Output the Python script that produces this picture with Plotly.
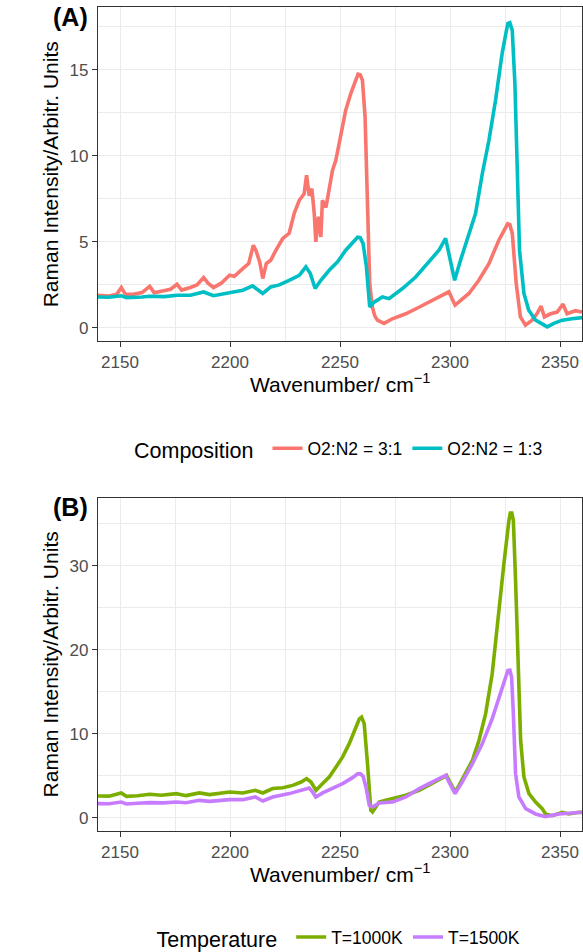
import plotly.graph_objects as go

# ---------------- Panel A: composition ----------------
wn_31 = [2140, 2145, 2148.5, 2150.6, 2152.5, 2156, 2160, 2163.5, 2165.5, 2170, 2173, 2175.9, 2178,
         2182, 2185, 2188, 2190, 2192.5, 2196, 2199.8, 2202, 2205.8, 2208.5, 2210.6, 2211.8, 2213.5,
         2214.9, 2216.5, 2218.5, 2220.9, 2222.4, 2224, 2226.9, 2229.2, 2231.5, 2233.7, 2234.8, 2236,
         2237.2, 2238.3, 2239, 2240.2, 2241.3, 2242, 2243.6, 2245.1, 2246.6, 2248.1, 2249.6, 2251.1,
         2252.6, 2254.9, 2257.2, 2258.2, 2259.2, 2260.2, 2261.4, 2262.5, 2263.5, 2264.7, 2265.8, 2267,
         2270, 2273.8, 2279.9, 2285.9, 2292, 2298, 2299.5, 2302.3, 2304.8, 2308.6, 2313.1, 2317.7,
         2322.2, 2325, 2326.2, 2327.2, 2328.3, 2330.1, 2332, 2334.3, 2337.3, 2339.5, 2341.4, 2342.9,
         2345.7, 2348.7, 2351.4, 2353.2, 2357, 2360]
int_31 = [1.9, 1.85, 1.95, 2.35, 1.95, 1.95, 2.05, 2.42, 2.05, 2.15, 2.25, 2.54, 2.2,
          2.35, 2.5, 2.93, 2.6, 2.35, 2.6, 3.06, 3.0, 3.45, 3.74, 4.81, 4.5, 3.84,
          2.87, 3.74, 3.93, 4.52, 4.9, 5.2, 5.5, 6.67, 7.42, 7.8, 8.88, 7.68,
          8.1, 6.65, 5.0, 6.46, 5.29, 7.42, 7.0, 8.1, 9.17, 9.75, 10.72, 11.69,
          12.66, 13.63, 14.5, 14.75, 14.72, 14.4, 12.27, 7.42, 2.58, 1.22, 0.7, 0.45,
          0.26, 0.53, 0.82, 1.2, 1.61, 2.0, 2.1, 1.32, 1.61, 2.0, 2.77, 3.74,
          5.1, 5.8, 6.05, 6.0, 5.5, 2.58, 0.64, 0.16, 0.45, 0.82, 1.26, 0.64,
          0.82, 0.92, 1.38, 0.82, 1.0, 0.92]

wn_13 = [2140, 2145, 2150.6, 2153, 2160, 2163.5, 2170, 2176, 2182, 2188, 2192.5, 2199.8, 2205.8,
         2210.3, 2212, 2214.9, 2218.5, 2222.4, 2226.9, 2231.5, 2234.5, 2236.5, 2238.7, 2241.3, 2245.1,
         2248.9, 2252.6, 2256.4, 2258, 2259.2, 2260.5, 2262, 2263.5, 2265.5, 2269.3, 2272.3, 2278.4,
         2284.4, 2289, 2295, 2298, 2299.8, 2302.1, 2304.8, 2307.8, 2311.6, 2314.7, 2317.7, 2320.7,
         2323.7, 2325.5, 2326.3, 2327.2, 2328.3, 2329.5, 2330.5, 2331.6, 2333.6, 2335.8, 2338.9,
         2341.9, 2344.2, 2347.2, 2351, 2355.5, 2360]
int_13 = [1.8, 1.78, 1.87, 1.76, 1.8, 1.84, 1.82, 1.9, 1.9, 2.09, 1.87, 2.05, 2.19,
          2.44, 2.3, 2.0, 2.38, 2.5, 2.77, 3.06, 3.55, 3.16, 2.29, 2.77, 3.35,
          3.84, 4.52, 5.1, 5.27, 5.25, 4.9, 3.55, 1.22, 1.5, 1.8, 1.7, 2.29,
          2.96, 3.65, 4.52, 5.2, 4.13, 2.77, 3.94, 5.1, 6.65, 8.98, 10.91, 13.24,
          15.95, 17.2, 17.7, 17.75, 17.3, 14.2, 9.36, 4.52, 2.0, 1.03, 0.45,
          0.26, 0.06, 0.26, 0.45, 0.53, 0.6]

# ---------------- Panel B: temperature ----------------
wn_1000 = [2140, 2145, 2150.6, 2152.9, 2158, 2163.5, 2168.7, 2175.6, 2180, 2186.1, 2190.7, 2199.8,
           2205.8, 2211.5, 2214.9, 2219.4, 2224, 2228.5, 2232.3, 2234.8, 2236.8, 2239.1, 2242.1,
           2245.1, 2248.2, 2251.2, 2254.2, 2257.2, 2258.8, 2259.8, 2261, 2262.5, 2264, 2264.8, 2267.8,
           2270.8, 2273.9, 2279.9, 2286, 2292, 2297.3, 2298.4, 2300.3, 2302.3, 2304.1, 2307.1,
           2310.2, 2313.2, 2316.2, 2319.2, 2322.3, 2324.5, 2326.8, 2327.4, 2328.1, 2328.8, 2329.8, 2331,
           2332.1, 2333.6, 2335.9, 2338.9, 2341.9, 2343.4, 2346.5, 2351, 2354, 2358.5, 2360]
int_1000 = [2.62, 2.6, 2.98, 2.58, 2.65, 2.82, 2.7, 2.9, 2.66, 2.98, 2.78, 3.1,
            2.98, 3.3, 2.98, 3.5, 3.6, 3.88, 4.28, 4.68, 4.28, 3.3, 4.1,
            4.88, 6.07, 7.27, 8.85, 10.64, 11.8, 12.0, 11.24, 6.47, 0.92, 0.71, 1.9,
            2.1, 2.3, 2.7, 3.3, 4.09, 4.89, 5.08, 4.09, 3.1, 3.89, 5.28,
            6.87, 9.25, 12.43, 17.2, 25.1, 30.28, 35.44, 36.3, 36.3, 35.44, 28.3, 18.38,
            9.25, 4.89, 2.9, 1.9, 1.11, 0.48, 0.28, 0.68, 0.48, 0.68, 0.65]

wn_1500 = [2140, 2145, 2150.6, 2152.9, 2158, 2163.5, 2170, 2175.6, 2180, 2186.1, 2190.7, 2199.8,
           2205.8, 2211.5, 2214.9, 2219.4, 2227, 2233, 2236, 2237.5, 2239, 2242.1, 2246.6, 2251.2,
           2255.7, 2258, 2259.3, 2260.5, 2261.8, 2263.3, 2264.8, 2267.8, 2273.9, 2279.9, 2286, 2292,
           2298, 2302.3, 2305.6, 2310.2, 2314.7, 2319.2, 2323, 2325.3, 2326.3, 2327.2, 2328, 2328.8,
           2329.8, 2331.3, 2334.4, 2338.9, 2343.4, 2349.5, 2358.5, 2360]
int_1500 = [1.71, 1.7, 1.9, 1.67, 1.75, 1.83, 1.8, 1.9, 1.82, 2.1, 1.98, 2.18,
            2.18, 2.5, 2.02, 2.5, 2.9, 3.3, 3.57, 3.1, 2.5, 2.98, 3.5, 4.1,
            4.8, 5.25, 5.25, 4.96, 3.69, 1.51, 1.31, 1.79, 1.9, 2.5, 3.49, 4.29,
            5.08, 2.9, 4.29, 6.47, 8.85, 11.83, 14.8, 16.79, 17.55, 17.6, 16.79, 12.43,
            5.28, 2.5, 1.11, 0.48, 0.16, 0.48, 0.68, 0.68]

x_ticks = [2150, 2200, 2250, 2300, 2350]
FONT = "Liberation Sans, Arial, Helvetica, sans-serif"
LW = 3.6

fig = go.Figure()
fig.add_trace(go.Scatter(x=wn_31, y=int_31, mode="lines", name="O2:N2 = 3:1",
                         line=dict(color="#F8766D", width=LW), xaxis="x", yaxis="y", legend="legend"))
fig.add_trace(go.Scatter(x=wn_13, y=int_13, mode="lines", name="O2:N2 = 1:3",
                         line=dict(color="#00BFC4", width=LW), xaxis="x", yaxis="y", legend="legend"))
fig.add_trace(go.Scatter(x=wn_1000, y=int_1000, mode="lines", name="T=1000K",
                         line=dict(color="#7CAE00", width=LW), xaxis="x2", yaxis="y2", legend="legend2"))
fig.add_trace(go.Scatter(x=wn_1500, y=int_1500, mode="lines", name="T=1500K",
                         line=dict(color="#C77CFF", width=LW), xaxis="x2", yaxis="y2", legend="legend2"))

def xax(anchor):
    return dict(anchor=anchor, domain=[0, 1], range=[2140, 2360], tickmode="array", tickvals=x_ticks,
                ticks="outside", ticklen=5, tickwidth=1.2, tickcolor="#333333",
                showline=True, linecolor="#333333", linewidth=1.3, mirror=True,
                showgrid=True, gridcolor="#EBEBEB", gridwidth=1.3, zeroline=False,
                minor=dict(tickmode="array", tickvals=[2175, 2225, 2275, 2325], showgrid=True,
                           gridcolor="#EBEBEB", gridwidth=0.7, ticks=""),
                tickfont=dict(size=17, color="#4D4D4D", family=FONT))

def yax(anchor, dom, rng, dt):
    return dict(anchor=anchor, domain=dom, range=rng, tick0=0, dtick=dt,
                ticks="outside", ticklen=5, tickwidth=1.2, tickcolor="#333333",
                showline=True, linecolor="#333333", linewidth=1.3, mirror=True,
                showgrid=True, gridcolor="#EBEBEB", gridwidth=1.3, zeroline=False,
                minor=dict(tick0=0, dtick=dt / 2, showgrid=True, gridcolor="#EBEBEB",
                           gridwidth=0.7, ticks=""),
                tickfont=dict(size=17, color="#4D4D4D", family=FONT))

leg_common = dict(orientation="h", x=0.5, xanchor="center", yanchor="middle",
                  font=dict(size=17.5, color="black", family=FONT), bgcolor="rgba(0,0,0,0)",
                  itemwidth=30, tracegroupgap=0)

fig.update_layout(
    width=583, height=952,
    margin=dict(l=98, r=1, t=7, b=121, autoexpand=False),
    paper_bgcolor="white", plot_bgcolor="white",
    font=dict(family=FONT, color="black"),
    xaxis=xax("y"),
    yaxis=yax("x", [0.5947, 1.0], [-0.76, 18.66], 5),
    xaxis2=xax("y2"),
    yaxis2=yax("x2", [0.0, 0.4046], [-1.55, 38.14], 10),
    legend=dict(y=0.4632, title=dict(text="Composition ", side="left",
                                      font=dict(size=21.5, family=FONT, color="black")), **leg_common),
    legend2=dict(y=-0.1300, title=dict(text="Temperature ", side="left",
                                        font=dict(size=21.5, family=FONT, color="black")), **leg_common),
)

ann = []
for yc in [0.5433, -0.0513]:
    ann.append(dict(text="Wavenumber/ cm<sup>\u22121</sup>", xref="paper", yref="paper", x=0.5, y=yc,
                    xanchor="center", yanchor="middle", showarrow=False,
                    font=dict(size=21, family=FONT, color="black")))
for yc in [0.797, 0.2023]:
    ann.append(dict(text="Raman Intensity/Arbitr. Units", xref="paper", yref="paper", x=-0.099, y=yc,
                    xanchor="center", yanchor="middle", textangle=-90, showarrow=False,
                    font=dict(size=21, family=FONT, color="black")))
for tag, yc in [("(A)", 0.9875), ("(B)", 0.3928)]:
    ann.append(dict(text="<b>%s</b>" % tag, xref="paper", yref="paper", x=-0.057, y=yc,
                    xanchor="center", yanchor="middle", showarrow=False,
                    font=dict(size=25, family=FONT, color="black")))
fig.update_layout(annotations=ann)

fig.write_html("out.html", config={"displayModeBar": False},
               post_script="document.body.style.margin='0px';")
